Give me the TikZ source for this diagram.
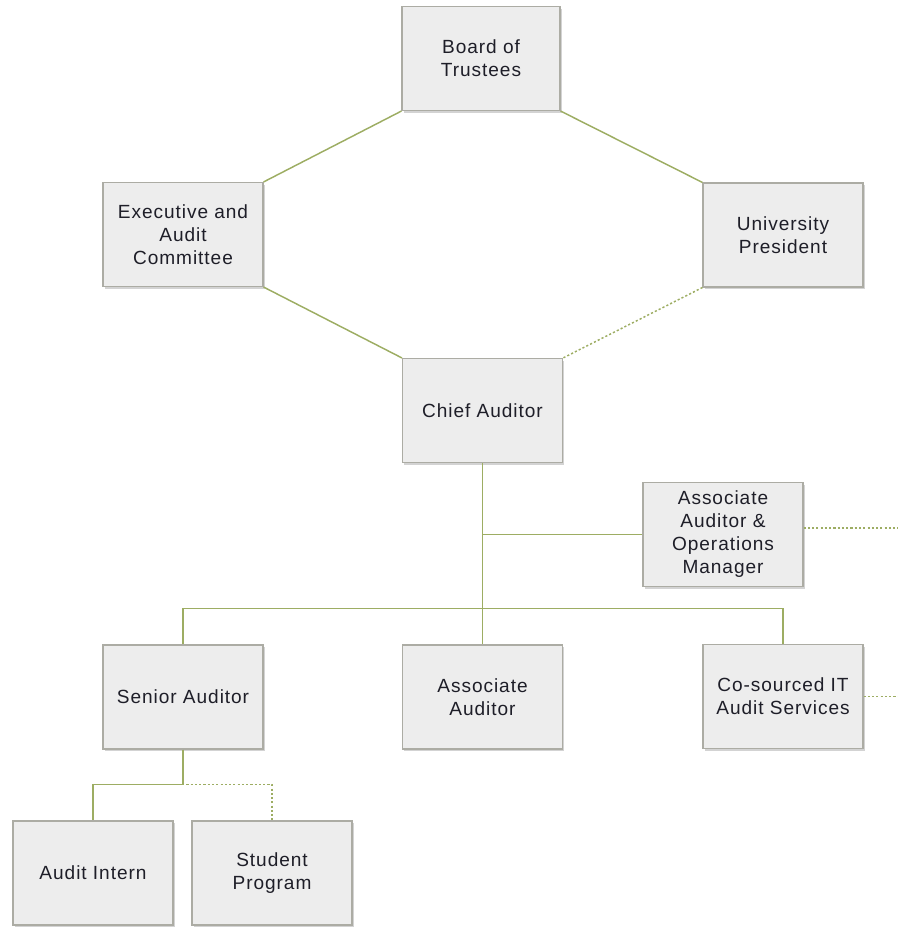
\documentclass[tikz,border=0pt]{standalone}
\usepackage{fontspec}
\setmainfont{Liberation Sans}[LetterSpace=5]
\usetikzlibrary{shadows}
\definecolor{boxfill}{HTML}{EDEDED}
\definecolor{boxline}{HTML}{ACACA4}
\definecolor{olive}{HTML}{9DAD63}
\definecolor{ink}{HTML}{1E1E28}
\tikzstyle{unit}=[draw=boxline, fill=boxfill, line width=0.8pt, minimum width=120pt, minimum height=78pt, inner sep=0pt, align=center, text=ink, font=\fontsize{14.3}{17.25}\selectfont, drop shadow={shadow xshift=1.3pt, shadow yshift=-1.5pt, opacity=0.35}]
\tikzstyle{link}=[olive, line width=1.1pt]
\tikzstyle{dotlink}=[olive, line width=1.1pt, dash pattern=on 1.6pt off 1.6pt]

\begin{document}
\begin{tikzpicture}[x=0.75pt, y=-0.75pt]
\useasboundingbox (0,0) rectangle (898,928);
% Boxes
    \node[unit, minimum width=118.5pt] (board) at (481,58.5) {Board of\\Trustees};
    \node[unit] (exec) at (183,234.5) {Executive and\\Audit\\Committee};
    \node[unit] (pres) at (783,235) {University\\President};
    \node[unit] (chief) at (482.5,410.5) {Chief Auditor};
    \node[unit] (opsmgr) at (723,534.5) {Associate\\Auditor \&\\Operations\\Manager};
    \node[unit] (senior) at (183,697) {Senior Auditor};
    \node[unit] (assoc) at (482.5,697) {Associate\\Auditor};
    \node[unit] (cosourced) at (783,696.5) {Co-sourced IT\\Audit Services};
    \node[unit] (intern) at (93,873) {Audit Intern};
    \node[unit] (student) at (272,873) {Student\\Program};
% Loose ends at the right edge
    \coordinate (opsend) at (898,528);
    \coordinate (coend) at (898,696.5);
% Reporting lines
    \draw[link] (board.south west) -- (exec.north east);
    \draw[link] (board.south east) -- (pres.north west);
    \draw[link] (exec.south east) -- (chief.north west);
    \draw[link] (chief.south) -- (assoc.north);
    \draw[link] (chief.south |- opsmgr.west) -- (opsmgr.west);
    \draw[link] (senior.north) -- ++(0,-36) -| (cosourced.north);
    \draw[link] (senior.south) -- ++(0,35) -| (intern.north);
% Dotted lines
    \draw[dotlink] (pres.south west) -- (chief.north east);
    \draw[dotlink] (opsmgr.east |- opsend) -- (opsend);
    \draw[dotlink] (cosourced.east) -- (coend);
    \draw[dotlink] (senior.south) -- ++(0,35) -| (student.north);
\end{tikzpicture}
\end{document}
